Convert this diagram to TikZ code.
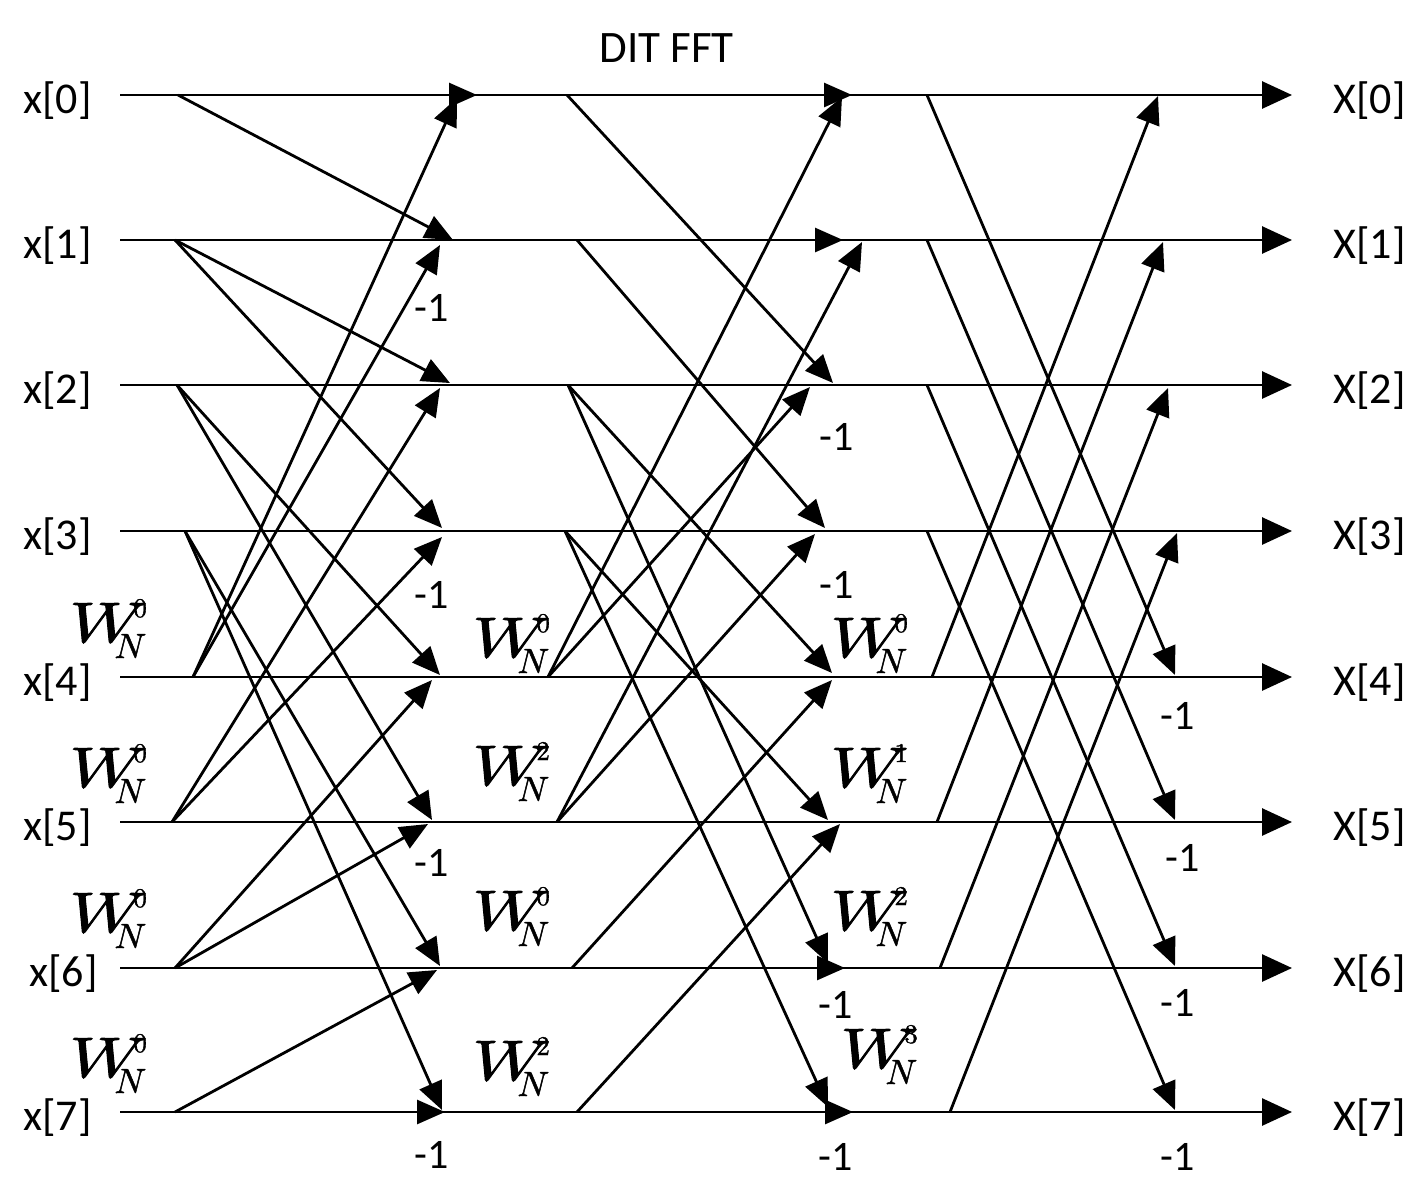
\documentclass[tikz,border=0pt]{standalone}
\usepackage{fontspec}
\newfontfamily\lblfont{Carlito}
\newfontface\wmathfont{latinmodern-math.otf}[FakeBold=1.4]
\newfontface\wrmfont{lmroman10-regular.otf}[FakeBold=1.2]
\usetikzlibrary{arrows.meta}
\newcommand\twid[1]{%
  \makebox[0pt][l]{\scalebox{1.27}[1]{\wmathfont\fontsize{57}{60}\selectfont 𝑊}}%
  \makebox[0pt][l]{\hspace*{45pt}\raisebox{-16pt}{\wmathfont\fontsize{35}{35}\selectfont 𝑁}}%
  \makebox[0pt][l]{\hspace*{64pt}\raisebox{25pt}{\wrmfont\fontsize{27}{27}\selectfont #1}}%
  \hspace*{82pt}}
\begin{document}
\begin{tikzpicture}[x=1pt,y=-1pt,line width=2.8pt,
  arr/.style={-{Triangle[length=28pt,width=24pt]}},
  outarr/.style={-{Triangle[length=30pt,width=27pt]}},
  io/.style={font=\lblfont\fontsize{44}{48}\selectfont,inner sep=0pt,anchor=base west},
  neg/.style={font=\lblfont\fontsize{42}{44}\selectfont,inner sep=0pt,anchor=center},
  tw/.style={inner sep=0pt,anchor=base west},
  ttl/.style={font=\lblfont\fontsize{45}{48}\selectfont,inner sep=0pt,anchor=base west}]
\useasboundingbox (0,0) rectangle (1416,1179);
% row ends
\coordinate (L0) at (120,95);   \coordinate (R0) at (1292,95);
\coordinate (L1) at (120,240);  \coordinate (R1) at (1292,240);
\coordinate (L2) at (120,385);  \coordinate (R2) at (1292,385);
\coordinate (L3) at (120,531);  \coordinate (R3) at (1292,531);
\coordinate (L4) at (120,677);  \coordinate (R4) at (1292,677);
\coordinate (L5) at (120,822);  \coordinate (R5) at (1292,822);
\coordinate (L6) at (120,968);  \coordinate (R6) at (1292,968);
\coordinate (L7) at (120,1112); \coordinate (R7) at (1292,1112);
\foreach \i in {0,...,7} {\draw[outarr] (L\i) -- (R\i);}
% stage 1 sources
\coordinate (a0) at (178,95);  \coordinate (a1) at (175,240);
\coordinate (a2) at (177,385); \coordinate (a3) at (185,531);
\coordinate (a4) at (193,677); \coordinate (a5) at (172,822);
\coordinate (a6) at (175,968); \coordinate (a7) at (175,1112);
% stage 1 tips
\coordinate (a0d) at (453,240);
\coordinate (a1u) at (450,383); \coordinate (a1d) at (442,528);
\coordinate (a2u) at (440,675); \coordinate (a2d) at (432,820);
\coordinate (a3u) at (440,966); \coordinate (a3d) at (442,1110);
\coordinate (a4u) at (457,98);  \coordinate (a4d) at (440,245);
\coordinate (a5u) at (440,388); \coordinate (a5d) at (442,537);
\coordinate (a6u) at (432,680); \coordinate (a6d) at (428,824);
\coordinate (a7u) at (437,970);
\coordinate (ah0s) at (440,95);   \coordinate (ah0) at (477,95);
\coordinate (ah7s) at (405,1112); \coordinate (ah7) at (445,1112);
\draw[arr] (a0) -- (a0d);
\draw[arr] (a1) -- (a1u); \draw[arr] (a1) -- (a1d);
\draw[arr] (a2) -- (a2u); \draw[arr] (a2) -- (a2d);
\draw[arr] (a3) -- (a3u); \draw[arr] (a3) -- (a3d);
\draw[arr] (a4) -- (a4u); \draw[arr] (a4) -- (a4d);
\draw[arr] (a5) -- (a5u); \draw[arr] (a5) -- (a5d);
\draw[arr] (a6) -- (a6u); \draw[arr] (a6) -- (a6d);
\draw[arr] (a7) -- (a7u);
\draw[arr] (ah0s) -- (ah0); \draw[arr] (ah7s) -- (ah7);
% stage 2 sources
\coordinate (b0) at (567,95);  \coordinate (b1) at (577,240);
\coordinate (b2) at (568,385); \coordinate (b3) at (565,531);
\coordinate (b4) at (548,677); \coordinate (b5) at (557,822);
\coordinate (b6) at (572,968); \coordinate (b7) at (577,1112);
% stage 2 tips
\coordinate (b0d) at (833,383);
\coordinate (b1d) at (825,528);
\coordinate (b2u) at (832,673); \coordinate (b2d) at (828,963);
\coordinate (b3u) at (828,820); \coordinate (b3d) at (828,1107);
\coordinate (b4u) at (842,97);  \coordinate (b4d) at (810,387);
\coordinate (b5u) at (862,242); \coordinate (b5d) at (815,534);
\coordinate (b6u) at (832,680);
\coordinate (b7u) at (840,824);
\coordinate (bh0s) at (815,95);   \coordinate (bh0) at (852,95);
\coordinate (bh1s) at (805,240);  \coordinate (bh1) at (843,240);
\coordinate (bh6s) at (808,968);  \coordinate (bh6) at (845,968);
\coordinate (bh7s) at (815,1112); \coordinate (bh7) at (853,1112);
\draw[arr] (b0) -- (b0d);
\draw[arr] (b1) -- (b1d);
\draw[arr] (b2) -- (b2u); \draw[arr] (b2) -- (b2d);
\draw[arr] (b3) -- (b3u); \draw[arr] (b3) -- (b3d);
\draw[arr] (b4) -- (b4u); \draw[arr] (b4) -- (b4d);
\draw[arr] (b5) -- (b5u); \draw[arr] (b5) -- (b5d);
\draw[arr] (b6) -- (b6u);
\draw[arr] (b7) -- (b7u);
\draw[arr] (bh0s) -- (bh0); \draw[arr] (bh1s) -- (bh1);
\draw[arr] (bh6s) -- (bh6); \draw[arr] (bh7s) -- (bh7);
% stage 3 sources
\coordinate (c0) at (927,95);  \coordinate (c1) at (927,240);
\coordinate (c2) at (927,385); \coordinate (c3) at (927,531);
\coordinate (c4) at (932,677); \coordinate (c5) at (937,822);
\coordinate (c6) at (940,968); \coordinate (c7) at (950,1112);
% stage 3 tips
\coordinate (c0d) at (1175,675);  \coordinate (c1d) at (1175,820);
\coordinate (c2d) at (1175,966);  \coordinate (c3d) at (1175,1110);
\coordinate (c4u) at (1158,96);   \coordinate (c5u) at (1163,242);
\coordinate (c6u) at (1168,388);  \coordinate (c7u) at (1177,533);
\foreach \s/\t in {c0/c0d,c1/c1d,c2/c2d,c3/c3d,c4/c4u,c5/c5u,c6/c6u,c7/c7u}
  {\draw[arr] (\s) -- (\t);}
% title
\node[ttl] (title) at (598,62) {DIT FFT};
% input / output labels
\node[io] (x0) at (22,113)  {x[0]};
\node[io] (x1) at (22,258)  {x[1]};
\node[io] (x2) at (22,403)  {x[2]};
\node[io] (x3) at (22,549)  {x[3]};
\node[io] (x4) at (22,695)  {x[4]};
\node[io] (x5) at (22,840)  {x[5]};
\node[io] (x6) at (28,986)  {x[6]};
\node[io] (x7) at (22,1130) {x[7]};
\node[io] (X0) at (1332,113)  {X[0]};
\node[io] (X1) at (1332,258)  {X[1]};
\node[io] (X2) at (1332,403)  {X[2]};
\node[io] (X3) at (1332,549)  {X[3]};
\node[io] (X4) at (1332,695)  {X[4]};
\node[io] (X5) at (1332,840)  {X[5]};
\node[io] (X6) at (1332,986)  {X[6]};
\node[io] (X7) at (1332,1130) {X[7]};
% -1 labels
\node[neg] (m11) at (432,308)  {-1};
\node[neg] (m13) at (432,595)  {-1};
\node[neg] (m15) at (432,863)  {-1};
\node[neg] (m17) at (432,1155) {-1};
\node[neg] (m22) at (837,437)  {-1};
\node[neg] (m23) at (837,585)  {-1};
\node[neg] (m26) at (836,1005) {-1};
\node[neg] (m27) at (836,1157) {-1};
\node[neg] (m34) at (1178,716)  {-1};
\node[neg] (m35) at (1183,858)  {-1};
\node[neg] (m36) at (1178,1003) {-1};
\node[neg] (m37) at (1178,1157) {-1};
% twiddle factors
\node[tw] (w14) at (68,642)  {\twid{0}};
\node[tw] (w15) at (68,787)  {\twid{0}};
\node[tw] (w16) at (68,932)  {\twid{0}};
\node[tw] (w17) at (68,1077) {\twid{0}};
\node[tw] (w24) at (471,657)  {\twid{0}};
\node[tw] (w25) at (471,785)  {\twid{2}};
\node[tw] (w26) at (471,930)  {\twid{0}};
\node[tw] (w27) at (471,1080) {\twid{2}};
\node[tw] (w34) at (829,657)  {\twid{0}};
\node[tw] (w35) at (829,787)  {\twid{1}};
\node[tw] (w36) at (829,930)  {\twid{2}};
\node[tw] (w37) at (839,1068) {\twid{3}};
\end{tikzpicture}
\end{document}
